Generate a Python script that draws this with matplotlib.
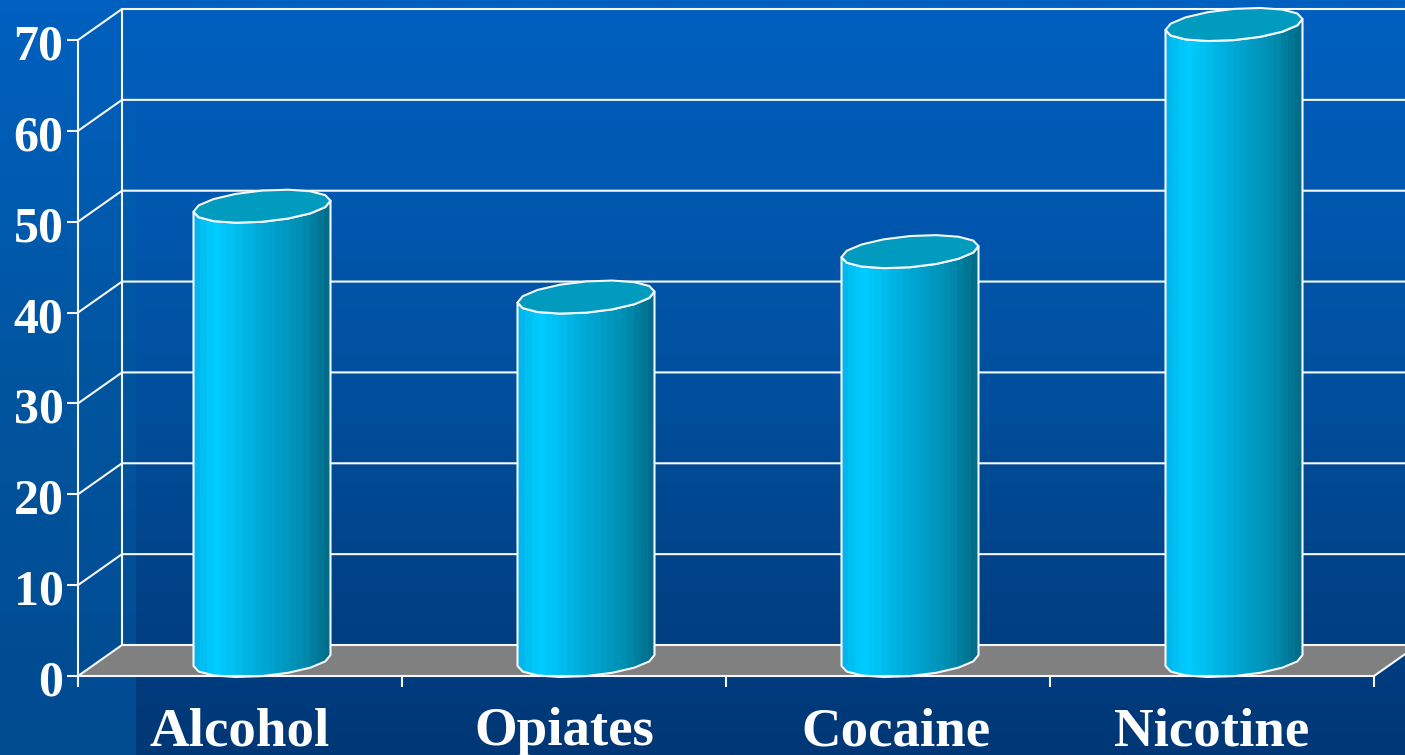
import matplotlib
matplotlib.use("Agg")
import matplotlib.pyplot as plt
import numpy as np
from matplotlib.colors import LinearSegmentedColormap
from matplotlib.patches import Polygon
from matplotlib.transforms import ScaledTranslation

# Data
drugs = ["Alcohol", "Opiates", "Cocaine", "Nicotine"]
values = [50, 40, 45, 70]
y_ticks = [0, 10, 20, 30, 40, 50, 60, 70]

W, H = 1405, 755
plt.rcParams['font.family'] = ['Liberation Serif', 'DejaVu Serif']

fig = plt.figure(figsize=(W / 100, H / 100), dpi=100)

# Background, with the slightly lighter strip on the left
bg = fig.add_axes([0, 0, 1, 1], zorder=-1)
bg.set_axis_off()
grad_main = LinearSegmentedColormap.from_list("main", ["#0060c0", "#00509f", "#003776"], N=64)
grad_left = LinearSegmentedColormap.from_list("left", ["#0060c0", "#00559f", "#004a90"], N=64)
ramp = np.linspace(0, 1, 256).reshape(-1, 1)
bg.imshow(ramp, cmap=grad_main, extent=[136, W, H, 0], aspect='auto')
bg.imshow(ramp, cmap=grad_left, extent=[0, 136, H, 0], aspect='auto')
bg.set_xlim(0, W)
bg.set_ylim(H, 0)

# Chart axes: the front plane of the 3D box
ax = fig.add_axes([78 / W, (H - 676) / H, (1374 - 78) / W, 636 / H])
ax.patch.set_visible(False)

px_x = 4 / (1374 - 78)  # category units per pixel
px_y = 70 / 636  # value units per pixel
dx = 44 * px_x
dy = 31 * px_y
white = "#f4f8fc"
lw = 1.5

# floor
ax.add_patch(Polygon([(0, 0), (dx, dy), (4 + dx, dy), (4, 0)], closed=True,
                     facecolor="#808080", edgecolor="none", clip_on=False, zorder=1))

# back wall and side wall lines
for v in y_ticks:
    ax.plot([0, dx, 4 + dx], [v, v + dy, v + dy], color=white, lw=lw, clip_on=False, zorder=2,
            solid_joinstyle='miter')
ax.plot([dx, dx], [dy, 70 + dy], color=white, lw=lw, clip_on=False, zorder=2)
ax.plot([4, 4 + dx], [0, dy], color=white, lw=lw, clip_on=False, zorder=2)

# cylinders
cyl_cmap = LinearSegmentedColormap.from_list(
    "cyl",
    [(0, "#00b6ec"), (0.07, "#00c4f6"), (0.16, "#00ccff"), (0.5, "#00a8d6"),
     (0.8, "#008eb2"), (1, "#006e8a")],
    N=20,
)
a = 68.5 * px_x
b = 15.6 * px_y
k = 5.5 * px_y
t_low = np.linspace(np.pi, 2 * np.pi, 9)
t_all = np.linspace(0, 2 * np.pi, 17)
strip = np.linspace(0, 1, 256).reshape(1, -1)

for i, v in enumerate(values):
    cx = i + 0.5 + dx / 2
    y_base = dy / 2
    y_top = v + dy / 2
    lx = cx + a * np.cos(t_low)
    base_y = y_base + k * np.cos(t_low) + b * np.sin(t_low)
    top_y = y_top + k * np.cos(t_low) + b * np.sin(t_low)
    outline = np.vstack([np.column_stack([lx, base_y]),
                         np.column_stack([lx[::-1], top_y[::-1]])])
    ax.add_patch(Polygon(outline, closed=True, facecolor="none", edgecolor=white, lw=lw,
                         clip_on=False, zorder=4, joinstyle='round'))
    img = ax.imshow(strip, cmap=cyl_cmap, aspect='auto', zorder=3,
                    extent=[cx - a, cx + a, y_base - b - k, y_top + b + k])
    img.set_clip_box(fig.bbox)  # Nicotine rises above the axes box
    img.set_clip_path(Polygon(outline, closed=True, transform=ax.transData))
    ex = cx + a * np.cos(t_all)
    ey = y_top + k * np.cos(t_all) + b * np.sin(t_all)
    ax.add_patch(Polygon(np.column_stack([ex, ey]), closed=True, facecolor="#009bbf",
                         edgecolor=white, lw=lw, clip_on=False, zorder=5, joinstyle='round'))
ax.set_xlim(0, 4)
ax.set_ylim(0, 70)

# axes, ticks, labels
for s in ['top', 'right']:
    ax.spines[s].set_visible(False)
for s in ['left', 'bottom']:
    ax.spines[s].set_color(white)
    ax.spines[s].set_linewidth(lw)
    ax.spines[s].set_zorder(6)
ax.set_yticks(y_ticks)
ax.set_yticklabels([str(v) for v in y_ticks])
ax.set_xticks(range(5))
ax.set_xticklabels([])
ax.tick_params(axis='both', which='major', color=white, width=lw, length=8)
ax.tick_params(axis='y', labelsize=36, labelcolor="white", pad=2.5)
nudge = ScaledTranslation(0, -2 / 100, fig.dpi_scale_trans)
for lab in ax.get_yticklabels():
    lab.set_fontweight('bold')
    lab.set_transform(lab.get_transform() + nudge)

# category labels sit a bit unevenly in the original
label_shift = [0, 0, 8 * px_x, 0]
for i, name in enumerate(drugs):
    ax.text(i + 0.5 + label_shift[i], -69 * px_y, name, ha='center', va='baseline', color="white",
            fontsize=39.5, fontweight='bold', clip_on=False)

fig.savefig("out.png", dpi=100)
